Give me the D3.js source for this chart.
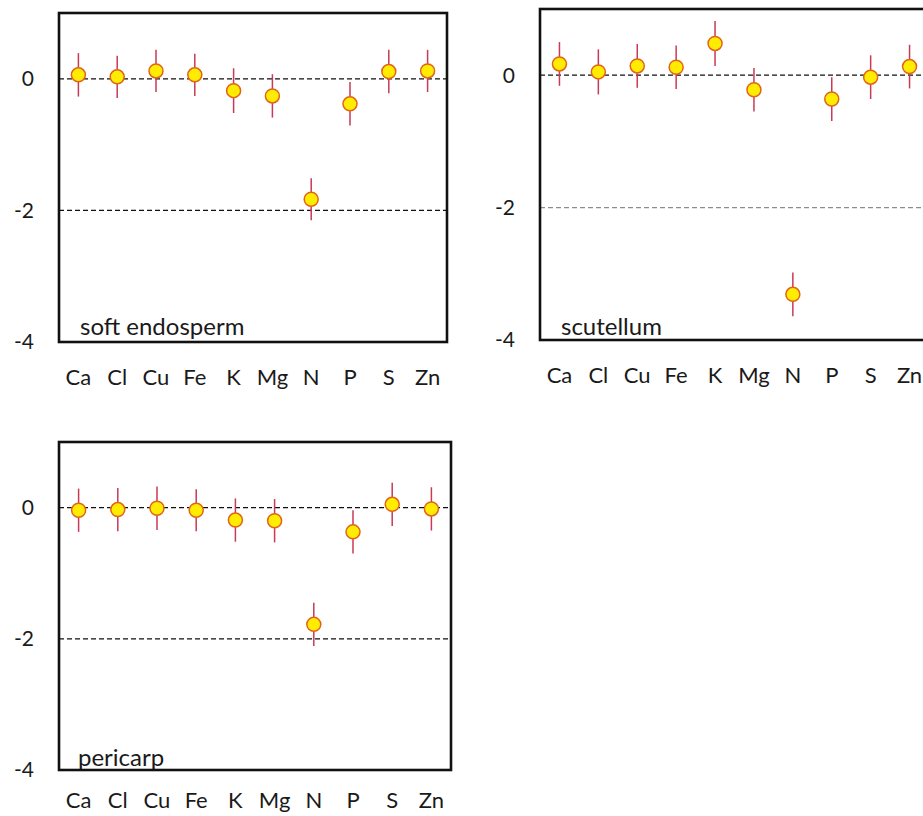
<!DOCTYPE html>
<html>
<head>
<meta charset="utf-8">
<script src="https://cdn.jsdelivr.net/npm/d3@7"></script>
<style>
  body { margin: 0; background: #fff; }
  svg { display: block; font-family: Lato, "Open Sans", sans-serif; }
</style>
</head>
<body>
<svg id="chart" width="923" height="816"></svg>
<script>
// elements on the x axis
var elements = ["Ca", "Cl", "Cu", "Fe", "K", "Mg", "N", "P", "S", "Zn"];
var yTicks = [0, -2, -4];
var refLines = [0, -2];

// log ratios per tissue
var softEndosperm = [0.06, 0.03, 0.12, 0.06, -0.18, -0.26, -1.83, -0.38, 0.11, 0.12];
var softEndospermErr = [0.33, 0.32, 0.32, 0.32, 0.34, 0.33, 0.32, 0.33, 0.33, 0.32];

var scutellum = [0.17, 0.05, 0.14, 0.12, 0.48, -0.22, -3.31, -0.36, -0.03, 0.13];
var scutellumErr = [0.33, 0.34, 0.33, 0.33, 0.34, 0.33, 0.33, 0.33, 0.33, 0.33];

var pericarp = [-0.04, -0.03, -0.01, -0.04, -0.19, -0.20, -1.78, -0.37, 0.05, -0.02];
var pericarpErr = [0.33, 0.33, 0.33, 0.32, 0.33, 0.33, 0.33, 0.33, 0.33, 0.33];

var svg = d3.select("#chart");

function drawPanel(cfg){
  var g = svg.append("g").attr("transform", "translate(" + cfg.x + "," + cfg.y + ")");
  var x = d3.scaleBand().domain(elements).range([0, cfg.w]).padding(0);
  var y = d3.scaleLinear().domain([-4, 1]).range([cfg.h, 0]);

  // dashed reference lines
  g.selectAll(".ref").data(refLines).enter().append("line")
    .attr("x1", 0).attr("x2", cfg.w)
    .attr("y1", function(d){ return y(d); })
    .attr("y2", function(d){ return y(d); })
    .style("stroke", function(d){ return (cfg.grayLow && d === -2) ? "#8c8c8c" : "#111"; })
    .style("stroke-width", "1.3px")
    .style("stroke-dasharray", "5,3");

  // y tick labels
  g.selectAll(".ytick").data(yTicks).enter().append("text")
    .attr("x", -25).attr("y", function(d){ return y(d); })
    .attr("dy", "0.35em").attr("text-anchor", "end")
    .style("font-size", "21px").style("fill", "#1a1a1a")
    .text(function(d){ return d; });

  // x labels
  g.selectAll(".xlab").data(elements).enter().append("text")
    .attr("x", function(d){ return x(d) + x.bandwidth()/2; })
    .attr("y", cfg.h + cfg.xlabDy)
    .attr("text-anchor", "middle")
    .style("font-size", "22px").style("fill", "#1a1a1a")
    .text(function(d){ return d; });

  // error bars
  g.selectAll(".err").data(cfg.values).enter().append("line")
    .attr("x1", function(d, i){ return x(elements[i]) + x.bandwidth()/2; })
    .attr("x2", function(d, i){ return x(elements[i]) + x.bandwidth()/2; })
    .attr("y1", function(d, i){ return y(d + cfg.err[i]); })
    .attr("y2", function(d, i){ return y(d - cfg.err[i]); })
    .style("stroke", "#c83a55").style("stroke-width", "1.5px");

  // points
  g.selectAll(".pt").data(cfg.values).enter().append("circle")
    .attr("cx", function(d, i){ return x(elements[i]) + x.bandwidth()/2; })
    .attr("cy", function(d){ return y(d); })
    .attr("r", 7)
    .style("fill", "#ffec00").style("stroke", "#e0641a").style("stroke-width", "1.5px");

  // tissue label
  g.append("text")
    .attr("x", cfg.labelX).attr("y", cfg.h - cfg.labelDy)
    .style("font-size", "24px").style("fill", "#1a1a1a")
    .text(cfg.label);

  // frame
  g.append("rect")
    .attr("x", 0).attr("y", 0).attr("width", cfg.w).attr("height", cfg.h)
    .style("fill", "none").style("stroke", "#111").style("stroke-width", "2.6px");
}

drawPanel({x: 59, y: 13, w: 388, h: 329, values: softEndosperm, err: softEndospermErr,
  label: "soft endosperm", labelX: 21, labelDy: 7, xlabDy: 43});
drawPanel({x: 540, y: 9, w: 389, h: 331, values: scutellum, err: scutellumErr,
  label: "scutellum", labelX: 21, labelDy: 5, xlabDy: 43, grayLow: true});
drawPanel({x: 59, y: 442, w: 392, h: 328, values: pericarp, err: pericarpErr,
  label: "pericarp", labelX: 19, labelDy: 4, xlabDy: 38});
</script>
</body>
</html>
